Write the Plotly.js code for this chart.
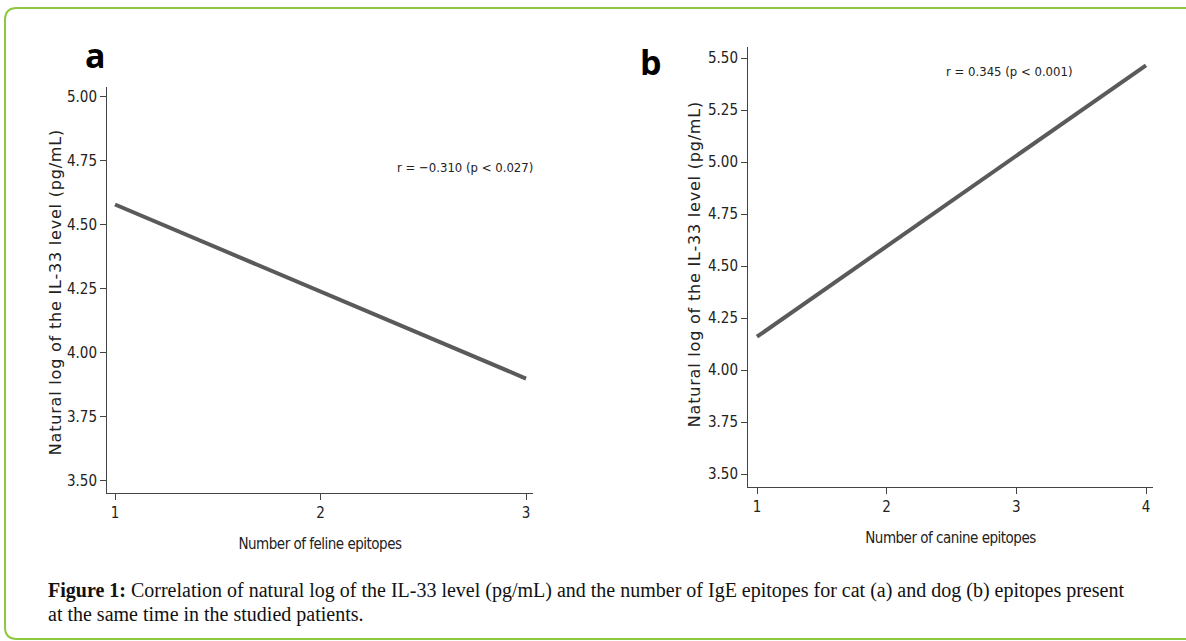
<!DOCTYPE html>
<html>
<head>
<meta charset="utf-8">
<script src="https://cdn.plot.ly/plotly-3.0.1.min.js"></script>
<style>
html,body{margin:0;padding:0;background:#fff;}
#chart{width:1186px;height:641px;}
text.xtitle, text.x2title{letter-spacing:-0.5px;}
</style>
</head>
<body>
<div id="chart"></div>
<script>
// Panel a: feline epitopes
const felineEpitopes = [1, 3];
const felineLogIL33 = [4.58, 3.90];
const felineTicks = [1, 2, 3];
const felineYTicks = [3.50, 3.75, 4.00, 4.25, 4.50, 4.75, 5.00];
const felineLabel = "r = \u22120.310 (p < 0.027)";

// Panel b: canine epitopes
const canineEpitopes = [1, 4];
const canineLogIL33 = [4.16, 5.465];
const canineTicks = [1, 2, 3, 4];
const canineYTicks = [3.50, 3.75, 4.00, 4.25, 4.50, 4.75, 5.00, 5.25, 5.50];
const canineLabel = "r = 0.345 (p < 0.001)";

const yTitle = "Natural log of the IL-33 level (pg/mL)";
const captionLine1 = "<b>Figure 1:</b> Correlation of natural log of the IL-33 level (pg/mL) and the number of IgE epitopes for cat (a) and dog (b) epitopes present";
const captionLine2 = "at the same time in the studied patients.";

const W = 1186, H = 641;
const px = x => x / W;
const py = y => 1 - y / H;

const narrow = "'Liberation Sans Narrow', 'Arial Narrow', 'DejaVu Sans Condensed', sans-serif";
const wide = "'DejaVu Sans', Arial, sans-serif";
const serif = "'Liberation Serif', 'Times New Roman', serif";
const lineColor = "#5a5a5a";
const axisColor = "#444";
const textColor = "#222";

const axisCommon = {
  showline: true, linecolor: axisColor, linewidth: 1,
  ticks: "outside", ticklen: 6, tickcolor: axisColor, tickwidth: 1,
  showgrid: false, zeroline: false, fixedrange: true,
  tickfont: {family: narrow, size: 15, color: textColor}
};

const traces = [
  {x: felineEpitopes, y: felineLogIL33, type: "scatter", mode: "lines",
   line: {color: lineColor, width: 4}, xaxis: "x", yaxis: "y", hoverinfo: "skip"},
  {x: canineEpitopes, y: canineLogIL33, type: "scatter", mode: "lines",
   line: {color: lineColor, width: 4}, xaxis: "x2", yaxis: "y2", hoverinfo: "skip"}
];

const yTitleFont = {family: wide, size: 16, color: textColor};

const layout = {
  width: W, height: H,
  margin: {l: 0, r: 0, t: 0, b: 0},
  paper_bgcolor: "#fff", plot_bgcolor: "#fff",
  showlegend: false,
  xaxis: Object.assign({}, axisCommon, {
    domain: [px(107), px(533)], range: [0.961, 3.034], anchor: "y",
    tickvals: felineTicks, ticktext: felineTicks.map(String),
    title: {text: "Number of feline epitopes", font: {family: narrow, size: 15, color: textColor}, standoff: 17}
  }),
  yaxis: Object.assign({}, axisCommon, {
    domain: [py(493), py(87)], range: [3.453, 5.039], anchor: "x",
    tickvals: felineYTicks, ticktext: felineYTicks.map(v => v.toFixed(2))
  }),
  xaxis2: Object.assign({}, axisCommon, {
    domain: [px(748), px(1153)], range: [0.9306, 4.054], anchor: "y2",
    tickvals: canineTicks, ticktext: canineTicks.map(String),
    title: {text: "Number of canine epitopes", font: {family: narrow, size: 15, color: textColor}, standoff: 17}
  }),
  yaxis2: Object.assign({}, axisCommon, {
    domain: [py(487), py(47)], range: [3.4375, 5.553], anchor: "x2",
    tickvals: canineYTicks, ticktext: canineYTicks.map(v => v.toFixed(2))
  }),
  annotations: [
    {xref: "paper", yref: "paper", x: px(55), y: py(292), text: yTitle, textangle: -90,
     showarrow: false, xanchor: "center", yanchor: "middle", font: yTitleFont},
    {xref: "paper", yref: "paper", x: px(694), y: py(264), text: yTitle, textangle: -90,
     showarrow: false, xanchor: "center", yanchor: "middle", font: yTitleFont},
    {xref: "x", yref: "y", x: 2.703, y: 4.723, text: felineLabel, showarrow: false,
     xanchor: "center", yanchor: "middle",
     font: {family: narrow, size: 13, color: textColor}},
    {xref: "x2", yref: "y2", x: 2.943, y: 5.433, text: canineLabel, showarrow: false,
     xanchor: "center", yanchor: "middle",
     font: {family: narrow, size: 13, color: textColor}},
    {xref: "paper", yref: "paper", x: px(95), y: py(55), text: "<b>a</b>", showarrow: false,
     xanchor: "center", yanchor: "middle",
     font: {family: "'Open Sans', sans-serif", size: 34, color: "#000"}},
    {xref: "paper", yref: "paper", x: px(651), y: py(62), text: "<b>b</b>", showarrow: false,
     xanchor: "center", yanchor: "middle",
     font: {family: "'Open Sans', sans-serif", size: 34, color: "#000"}},
    {xref: "paper", yref: "paper", x: px(46), y: py(590), xanchor: "left", yanchor: "middle",
     text: captionLine1, showarrow: false, align: "left",
     font: {family: serif, size: 20, color: "#111"}},
    {xref: "paper", yref: "paper", x: px(46), y: py(614), xanchor: "left", yanchor: "middle",
     text: captionLine2, showarrow: false, align: "left",
     font: {family: serif, size: 20, color: "#111"}}
  ],
  shapes: [
    {type: "path", xref: "paper", yref: "paper",
     path: `M ${px(1186)},${py(8)} L ${px(17)},${py(8)} Q ${px(5)},${py(8)} ${px(5)},${py(20)} L ${px(5)},${py(627)} Q ${px(5)},${py(639)} ${px(17)},${py(639)} L ${px(1186)},${py(639)}`,
     line: {color: "#8dc63f", width: 2}}
  ]
};

Plotly.newPlot("chart", traces, layout, {displayModeBar: false, staticPlot: true}).then(() => {
  document.querySelectorAll("g.annotation text.annotation-text").forEach(t => {
    if (t.textContent === yTitle) t.style.letterSpacing = "0.8px";
  });
});
</script>
</body>
</html>
